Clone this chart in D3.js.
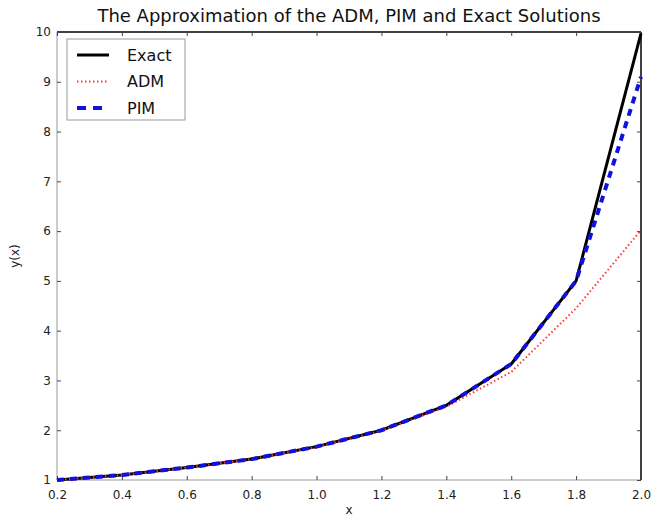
<!DOCTYPE html>
<html lang="en">
<head>
    <meta charset="UTF-8">
    <title>The Approximation of the ADM, PIM and Exact Solutions</title>
    <script src="https://d3js.org/d3.v7.min.js"></script>
    <style>
        body {
            margin: 0;
            background: #fff;
            font-family: "DejaVu Sans", sans-serif;
        }
        .line {
            fill: none;
        }
    </style>
</head>
<body>
    <div id="chart"></div>
    <script>
        // values
        const xValues = [0.2, 0.4, 0.6, 0.8, 1.0, 1.2, 1.4, 1.6, 1.8, 2.0];
        const exactValues = [1.0, 1.1, 1.25, 1.42, 1.67, 2.0, 2.5, 3.33, 5.0, 9.97];
        const admValues = [1.0, 1.1, 1.25, 1.42, 1.66, 1.99, 2.47, 3.17, 4.45, 6.02];
        const pimValues = [1.0, 1.1, 1.25, 1.42, 1.67, 2.0, 2.5, 3.33, 5.0, 9.1];
        const xTicks = [0.2, 0.4, 0.6, 0.8, 1.0, 1.2, 1.4, 1.6, 1.8, 2.0];
        const yTicks = [1, 2, 3, 4, 5, 6, 7, 8, 9, 10];
        const seriesNames = ["Exact", "ADM", "PIM"];

        const W = 651, H = 517;
        const margin = { top: 32, right: 10, bottom: 37, left: 57 };
        const width = W - margin.left - margin.right;
        const height = H - margin.top - margin.bottom;

        const svg = d3.select("#chart")
            .append("svg")
            .attr("width", W)
            .attr("height", H);

        const g = svg.append("g")
            .attr("transform", `translate(${margin.left},${margin.top})`);

        const x = d3.scaleLinear().domain([0.2, 2.0]).range([0, width]);
        const y = d3.scaleLinear().domain([1, 10]).range([height, 0]);

        // frame: left/bottom grey, top/right black
        g.append("line").attr("x1", 0).attr("x2", 0).attr("y1", 0).attr("y2", height)
            .attr("stroke", "#bbb").attr("stroke-width", 1.5);
        g.append("line").attr("x1", 0).attr("x2", width).attr("y1", height).attr("y2", height)
            .attr("stroke", "#bbb").attr("stroke-width", 1.5);
        g.append("line").attr("x1", 0).attr("x2", width).attr("y1", 0).attr("y2", 0)
            .attr("stroke", "#000").attr("stroke-width", 1.5);
        g.append("line").attr("x1", width).attr("x2", width).attr("y1", 0).attr("y2", height)
            .attr("stroke", "#000").attr("stroke-width", 1.5);

        // axes with inward ticks, like matplotlib
        g.append("g")
            .attr("transform", `translate(0,${height})`)
            .call(d3.axisBottom(x).tickValues(xTicks).tickSize(-4).tickPadding(10).tickFormat(d3.format(".1f")));
        g.append("g")
            .call(d3.axisLeft(y).tickValues(yTicks).tickSize(-4).tickPadding(6).tickFormat(d3.format("d")));
        g.append("g")
            .call(d3.axisTop(x).tickValues(xTicks).tickSize(-4).tickFormat(""));
        g.append("g")
            .attr("transform", `translate(${width},0)`)
            .call(d3.axisRight(y).tickValues(yTicks).tickSize(-4).tickFormat(""));

        g.selectAll(".domain").remove();
        g.selectAll(".tick line").attr("stroke", "#444");
        g.selectAll(".tick text")
            .attr("fill", "#222")
            .style("font-family", "'DejaVu Sans', sans-serif")
            .style("font-size", "12px");

        // lines
        const line = d3.line()
            .x((d, i) => x(xValues[i]))
            .y(d => y(d));

        const styles = {
            Exact: { color: "#000", width: 3, dash: null },
            ADM: { color: "#ff3a3a", width: 2, dash: "1.5,2.5" },
            PIM: { color: "#1010e0", width: 4, dash: "7,6" }
        };
        const seriesData = { Exact: exactValues, ADM: admValues, PIM: pimValues };

        seriesNames.forEach(name => {
            const s = styles[name];
            g.append("path")
                .datum(seriesData[name])
                .attr("class", "line")
                .attr("stroke", s.color)
                .attr("stroke-width", s.width)
                .attr("stroke-dasharray", s.dash)
                .attr("d", line);
        });

        // legend
        const legend = g.append("g").attr("transform", "translate(10,7)");
        legend.append("rect")
            .attr("width", 118).attr("height", 81)
            .attr("fill", "#fff")
            .attr("stroke", "#999")
            .attr("stroke-width", 1);
        seriesNames.forEach((name, i) => {
            const s = styles[name];
            const ly = 16 + i * 26.5;
            legend.append("line")
                .attr("x1", 10).attr("x2", 42)
                .attr("y1", ly).attr("y2", ly)
                .attr("stroke", s.color)
                .attr("stroke-width", s.width)
                .attr("stroke-dasharray", name === "PIM" ? "9,7" : s.dash);
            legend.append("text")
                .attr("x", 60).attr("y", ly)
                .attr("dy", "0.35em")
                .style("font-size", "16px")
                .attr("fill", "#111")
                .text(name);
        });

        // title and axis labels
        svg.append("text")
            .attr("x", margin.left + width / 2)
            .attr("y", 22)
            .attr("text-anchor", "middle")
            .style("font-size", "18px")
            .attr("fill", "#111")
            .text("The Approximation of the ADM, PIM and Exact Solutions");

        svg.append("text")
            .attr("x", margin.left + width / 2)
            .attr("y", 514)
            .attr("text-anchor", "middle")
            .style("font-size", "12px")
            .attr("fill", "#222")
            .text("x");

        svg.append("text")
            .attr("transform", `translate(19,${margin.top + height / 2}) rotate(-90)`)
            .attr("text-anchor", "middle")
            .style("font-size", "12px")
            .attr("fill", "#222")
            .text("y(x)");
    </script>
</body>
</html>
